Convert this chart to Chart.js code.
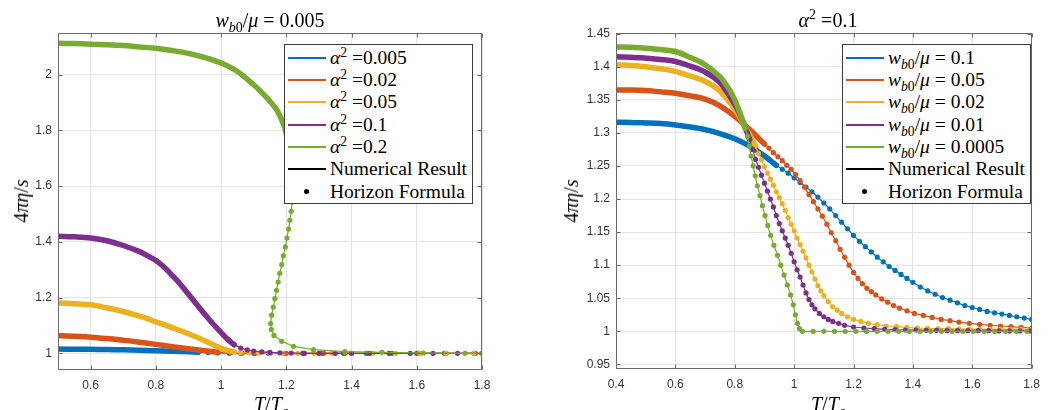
<!DOCTYPE html>
<html>
<head>
<meta charset="utf-8">
<script src="https://cdn.jsdelivr.net/npm/chart.js@4.4.1/dist/chart.umd.min.js"></script>
<style>
  body { margin: 0; background: #fff; }
  #wrap { position: relative; width: 1048px; height: 410px; overflow: hidden;
          font-family: "Liberation Serif", "DejaVu Serif", serif; color: #000; }
  .panel { position: absolute; top: 0; width: 524px; height: 410px; }
  .lbl { position: absolute; white-space: nowrap; font-size: 20px; line-height: 1;
         transform: translate(-50%, -50%); }
  .ylab { transform: translate(-50%, -50%) rotate(-90deg); }
  .legend { position: absolute; top: 44px; width: 189px; height: 160px; background: #fff;
            border: 1px solid #3a3a3a; box-sizing: border-box; }
  .row { position: absolute; left: 0; height: 22px; line-height: 22px; font-size: 19.5px; white-space: nowrap; }
  .sample { position: absolute; left: 3px; top: 10px; width: 38px; height: 2px; }
  .dot { position: absolute; left: 19px; top: 8.5px; width: 5px; height: 5px; border-radius: 50%; background: #000; }
  .txt { position: absolute; left: 45px; top: 0; }
  sup, sub { font-size: 70%; line-height: 0; }
</style>
</head>
<body>
<div id="wrap">
  <div class="panel" style="left:0"><canvas id="left"></canvas></div>
  <div class="panel" style="left:524px"><canvas id="right"></canvas></div>

  <div class="lbl" style="left:270px;top:20px"><i>w</i><sub><i>b</i>0</sub>/<i>μ</i> = 0.005</div>
  <div class="lbl" style="left:828px;top:20px"><i>α</i><sup>2</sup> =0.1</div>
  <div class="lbl ylab" style="left:21px;top:201px">4<i>πη</i>/<i>s</i></div>
  <div class="lbl ylab" style="left:571px;top:201px">4<i>πη</i>/<i>s</i></div>
  <div class="lbl" style="left:271px;top:404px"><i>T</i>/<i>T</i><sub><i>c</i></sub></div>
  <div class="lbl" style="left:828px;top:404px"><i>T</i>/<i>T</i><sub><i>c</i></sub></div>

  <div class="legend" id="legLeft" style="left:284px"></div>
  <div class="legend" id="legRight" style="left:842px"></div>
</div>

<script>
// MATLAB default colour order
const colors = ['#0072BD', '#D95319', '#EDB120', '#7E2F8E', '#77AC30'];

// ---- left panel: w_b0/mu = 0.005, series by alpha^2 ----
const leftAlpha = [0.005, 0.02, 0.05, 0.1, 0.2];
const leftXTicks = [0.6, 0.8, 1, 1.2, 1.4, 1.6, 1.8];
const leftYTicks = [1, 1.2, 1.4, 1.6, 1.8, 2];

// dense part of each curve (markers overlap into a solid band)
const leftBand = [
  [[0.5,1.015],[0.55,1.0148],[0.6,1.0143],[0.65,1.0135],[0.7,1.0125],[0.75,1.011],[0.8,1.0095],[0.85,1.0075],[0.9,1.0055],[0.93,1.004]],
  [[0.5,1.064],[0.55,1.061],[0.6,1.058],[0.65,1.053],[0.7,1.047],[0.75,1.04],[0.8,1.032],[0.85,1.024],[0.9,1.016],[0.95,1.009],[0.99,1.004]],
  [[0.5,1.181],[0.55,1.178],[0.6,1.174],[0.65,1.163],[0.7,1.15],[0.75,1.133],[0.8,1.113],[0.85,1.092],[0.9,1.07],[0.95,1.045],[1.0,1.018],[1.02,1.01],[1.04,1.005]],
  [[0.5,1.42],[0.55,1.418],[0.6,1.414],[0.65,1.404],[0.7,1.387],[0.75,1.365],[0.775,1.35],[0.8,1.333],[0.825,1.31],[0.85,1.28],[0.875,1.248],[0.9,1.212],[0.925,1.176],[0.95,1.14],[0.975,1.106],[1.0,1.074],[1.02,1.05],[1.04,1.031]],
  [[0.5,2.113],[0.55,2.112],[0.6,2.11],[0.65,2.108],[0.7,2.105],[0.75,2.1],[0.8,2.095],[0.85,2.087],[0.9,2.077],[0.95,2.062],[1.0,2.042],[1.05,2.012],[1.1,1.964],[1.13,1.93],[1.15,1.905],[1.17,1.875],[1.185,1.84],[1.195,1.81],[1.205,1.76],[1.212,1.71],[1.217,1.66],[1.22,1.61],[1.22,1.575]]
];
// sparse markers after the band
const leftDots = [
  [[0.96,1.0025],[0.99,1.0012],[1.025,1.0005],[1.06,1.0002],[1.1,1.0],[1.145,1.0],[1.195,1.0],[1.25,1.0],[1.31,1.0],[1.375,1.0],[1.445,1.0],[1.52,1.0],[1.6,1.0],[1.685,1.0],[1.775,1.0]],
  [[1.03,1.002],[1.065,1.001],[1.105,1.0],[1.15,1.0],[1.2,1.0],[1.255,1.0],[1.315,1.0],[1.38,1.0],[1.45,1.0],[1.525,1.0],[1.605,1.0],[1.69,1.0],[1.78,1.0]],
  [[1.06,1.003],[1.085,1.0015],[1.115,1.0008],[1.15,1.0003],[1.19,1.0],[1.235,1.0],[1.285,1.0],[1.34,1.0],[1.4,1.0],[1.465,1.0],[1.535,1.0],[1.61,1.0],[1.69,1.0],[1.775,1.0]],
  [[1.06,1.019],[1.08,1.012],[1.1,1.008],[1.125,1.005],[1.15,1.003],[1.18,1.0015],[1.215,1.001],[1.255,1.0],[1.3,1.0],[1.35,1.0],[1.4,1.0],[1.455,1.0],[1.515,1.0],[1.58,1.0],[1.65,1.0],[1.725,1.0],[1.8,1.0]],
  [[1.218,1.543],[1.215,1.51],[1.211,1.478],[1.207,1.446],[1.202,1.414],[1.197,1.382],[1.191,1.35],[1.186,1.318],[1.18,1.287],[1.175,1.256],[1.17,1.226],[1.165,1.196],[1.16,1.166],[1.155,1.137],[1.152,1.107],[1.154,1.085],[1.162,1.064],[1.186,1.043],[1.222,1.025],[1.283,1.013],[1.38,1.006],[1.493,1.0035],[1.62,1.001],[1.748,1.0],[1.8,1.0]]
];

// ---- right panel: alpha^2 = 0.1, series by w_b0/mu ----
const rightW = [0.1, 0.05, 0.02, 0.01, 0.0005];
const rightXTicks = [0.4, 0.6, 0.8, 1, 1.2, 1.4, 1.6, 1.8];
const rightYTicks = [0.95, 1, 1.05, 1.1, 1.15, 1.2, 1.25, 1.3, 1.35, 1.4, 1.45];

const rightBand = [
  [[0.4,1.316],[0.45,1.3158],[0.5,1.315],[0.55,1.314],[0.6,1.312],[0.65,1.309],[0.7,1.305],[0.75,1.299],[0.8,1.291],[0.85,1.28],[0.9,1.265],[0.94,1.251]],
  [[0.4,1.365],[0.45,1.3648],[0.5,1.364],[0.55,1.362],[0.6,1.36],[0.65,1.356],[0.7,1.351],[0.75,1.341],[0.8,1.325],[0.85,1.305],[0.9,1.283]],
  [[0.4,1.403],[0.45,1.402],[0.5,1.4],[0.55,1.397],[0.6,1.393],[0.65,1.386],[0.7,1.378],[0.75,1.363],[0.8,1.336],[0.83,1.313],[0.855,1.293],[0.87,1.28]],
  [[0.4,1.415],[0.45,1.4145],[0.5,1.413],[0.55,1.411],[0.6,1.408],[0.65,1.401],[0.7,1.392],[0.75,1.376],[0.8,1.343],[0.825,1.32],[0.85,1.29]],
  [[0.4,1.43],[0.45,1.4295],[0.5,1.428],[0.55,1.426],[0.6,1.423],[0.65,1.414],[0.7,1.403],[0.75,1.385],[0.775,1.37],[0.8,1.35],[0.82,1.327],[0.835,1.307]]
];
const rightDots = [
  [[0.96,1.245],[0.98,1.239],[1.0,1.232],[1.02,1.225],[1.04,1.218],[1.06,1.211],[1.08,1.203],[1.1,1.194],[1.12,1.185],[1.14,1.175],[1.16,1.165],[1.18,1.155],[1.2,1.145],[1.22,1.136],[1.24,1.128],[1.26,1.12],[1.28,1.112],[1.3,1.105],[1.32,1.098],[1.34,1.092],[1.36,1.086],[1.38,1.08],[1.4,1.074],[1.425,1.067],[1.45,1.061],[1.475,1.056],[1.5,1.051],[1.525,1.047],[1.55,1.043],[1.575,1.039],[1.6,1.036],[1.625,1.033],[1.65,1.03],[1.675,1.028],[1.7,1.026],[1.725,1.024],[1.75,1.022],[1.775,1.02],[1.8,1.018]],
  [[0.915,1.277],[0.93,1.27],[0.945,1.264],[0.96,1.258],[0.975,1.251],[0.99,1.245],[1.005,1.237],[1.02,1.228],[1.035,1.218],[1.05,1.207],[1.065,1.196],[1.08,1.185],[1.095,1.174],[1.11,1.162],[1.125,1.149],[1.14,1.137],[1.155,1.124],[1.17,1.112],[1.185,1.1],[1.2,1.089],[1.215,1.08],[1.23,1.072],[1.245,1.065],[1.26,1.06],[1.275,1.055],[1.295,1.049],[1.315,1.044],[1.335,1.039],[1.355,1.035],[1.38,1.031],[1.405,1.027],[1.435,1.024],[1.465,1.021],[1.495,1.018],[1.525,1.016],[1.555,1.014],[1.59,1.012],[1.625,1.0105],[1.66,1.009],[1.695,1.008],[1.73,1.007],[1.765,1.006],[1.8,1.005]],
  [[0.88,1.269],[0.89,1.259],[0.9,1.249],[0.91,1.239],[0.92,1.23],[0.93,1.221],[0.94,1.211],[0.95,1.202],[0.96,1.193],[0.97,1.183],[0.98,1.172],[0.99,1.162],[1.0,1.152],[1.01,1.141],[1.02,1.131],[1.03,1.121],[1.04,1.111],[1.05,1.1],[1.06,1.09],[1.07,1.079],[1.08,1.069],[1.09,1.061],[1.1,1.054],[1.115,1.045],[1.13,1.037],[1.145,1.032],[1.16,1.027],[1.18,1.022],[1.2,1.018],[1.225,1.015],[1.25,1.012],[1.28,1.01],[1.31,1.008],[1.345,1.007],[1.38,1.006],[1.415,1.005],[1.45,1.0045],[1.485,1.004],[1.52,1.004],[1.555,1.0035],[1.59,1.0035],[1.625,1.003],[1.66,1.003],[1.695,1.003],[1.73,1.003],[1.765,1.003],[1.8,1.003]],
  [[0.86,1.275],[0.87,1.26],[0.88,1.248],[0.89,1.236],[0.9,1.224],[0.91,1.212],[0.92,1.2],[0.93,1.188],[0.94,1.175],[0.95,1.163],[0.96,1.152],[0.97,1.141],[0.98,1.13],[0.99,1.118],[1.0,1.105],[1.01,1.093],[1.02,1.082],[1.03,1.07],[1.04,1.058],[1.05,1.048],[1.06,1.04],[1.07,1.034],[1.085,1.027],[1.1,1.022],[1.115,1.018],[1.13,1.015],[1.15,1.012],[1.17,1.009],[1.2,1.0065],[1.235,1.005],[1.27,1.004],[1.305,1.003],[1.34,1.0025],[1.375,1.002],[1.41,1.002],[1.445,1.0015],[1.48,1.0015],[1.515,1.001],[1.55,1.001],[1.585,1.001],[1.62,1.001],[1.655,1.001],[1.69,1.0005],[1.725,1.0005],[1.76,1.0005],[1.795,1.0005]],
  [[0.843,1.295],[0.849,1.28],[0.855,1.265],[0.862,1.25],[0.869,1.235],[0.876,1.22],[0.885,1.205],[0.893,1.19],[0.902,1.175],[0.911,1.16],[0.921,1.145],[0.932,1.13],[0.944,1.115],[0.955,1.1],[0.966,1.085],[0.977,1.07],[0.988,1.055],[0.997,1.04],[1.004,1.025],[1.011,1.012],[1.018,1.004],[1.028,1.0],[1.064,1.0],[1.1,1.0],[1.136,1.0],[1.172,1.0],[1.208,1.0],[1.244,1.0],[1.28,1.0],[1.316,1.0],[1.352,1.0],[1.388,1.0],[1.424,1.0],[1.46,1.0],[1.496,1.0],[1.532,1.0],[1.568,1.0],[1.604,1.0],[1.64,1.0],[1.676,1.0],[1.712,1.0],[1.748,1.0],[1.784,1.0]]
];

const pts = arr => arr.map(([x, y]) => ({ x, y }));

function buildDatasets(bands, dots) {
  const sets = [];
  bands.forEach((band, i) => {
    const order = bands.length - i; // last series on top
    sets.push({
      data: pts(band), showLine: true, borderColor: colors[i], borderWidth: 5.5, tension: 0.35,
      borderCapStyle: 'round', borderJoinStyle: 'round', pointRadius: 0, order
    });
    sets.push({
      data: pts([band[band.length - 1], ...dots[i]]), showLine: true, borderColor: colors[i],
      borderWidth: 1.2, pointRadius: 2.6, pointBackgroundColor: colors[i], pointBorderWidth: 0, order
    });
  });
  return sets;
}

// axes box with inward ticks on all four sides
const boxPlugin = {
  id: 'box',
  afterDatasetsDraw(chart) {
    const { ctx, chartArea: a, scales: { x, y } } = chart;
    const L = Math.round(a.left) + 0.5, R = Math.round(a.right) - 0.5;
    const T = Math.round(a.top) + 0.5, B = Math.round(a.bottom) - 0.5;
    ctx.save();
    ctx.strokeStyle = '#6a6a6a';
    ctx.lineWidth = 1;
    ctx.beginPath();
    ctx.rect(L, T, R - L, B - T);
    x.ticks.forEach(t => {
      const px = Math.round(x.getPixelForValue(t.value)) + 0.5;
      ctx.moveTo(px, B); ctx.lineTo(px, B - 4);
      ctx.moveTo(px, T); ctx.lineTo(px, T + 4);
    });
    y.ticks.forEach(t => {
      const py = Math.round(y.getPixelForValue(t.value)) + 0.5;
      ctx.moveTo(L, py); ctx.lineTo(L + 4, py);
      ctx.moveTo(R, py); ctx.lineTo(R - 4, py);
    });
    ctx.stroke();
    ctx.restore();
  }
};

function axis(min, max, ticks, fit) {
  return {
    type: 'linear', min, max,
    afterBuildTicks: s => { s.ticks = ticks.map(v => ({ value: v })); },
    afterFit: fit,
    grid: { color: '#e4e4e4', drawTicks: false },
    border: { display: false },
    ticks: {
      padding: 6, color: '#333', autoSkip: false, maxRotation: 0,
      font: { family: 'Liberation Sans', size: 12 },
      callback: v => String(v)
    }
  };
}

function makeChart(id, bands, dots, xr, yr, xt, yt, yWidth, xHeight, padRight) {
  const xs = axis(xr[0], xr[1], xt, s => { s.height = xHeight; });
  xs.ticks.padding = 8;
  return new Chart(document.getElementById(id), {
    type: 'scatter',
    data: { datasets: buildDatasets(bands, dots) },
    options: {
      responsive: true, maintainAspectRatio: false, animation: false, events: [],
      layout: { autoPadding: false, padding: { top: 33, right: padRight, bottom: 0, left: 0 } },
      plugins: { legend: { display: false }, tooltip: { enabled: false } },
      scales: {
        x: xs,
        y: axis(yr[0], yr[1], yt, s => { s.width = yWidth; })
      }
    },
    plugins: [boxPlugin]
  });
}

makeChart('left', leftBand, leftDots, [0.5, 1.8], [0.94, 2.15], leftXTicks, leftYTicks, 58, 40, 42);
makeChart('right', rightBand, rightDots, [0.4, 1.8], [0.943, 1.451], rightXTicks, rightYTicks, 92, 41, 8);

// legends
function legend(el, labels) {
  const rows = labels.map((html, i) => ({ html, color: colors[i], kind: 'line' }));
  rows.push({ html: 'Numerical Result', color: '#000', kind: 'line' });
  rows.push({ html: 'Horizon Formula', color: '#000', kind: 'dot' });
  el.innerHTML = rows.map((r, i) => {
    const mark = r.kind === 'line'
      ? `<span class="sample" style="background:${r.color}"></span>`
      : `<span class="dot"></span>`;
    return `<div class="row" style="top:${(1.7 + 22.33 * i).toFixed(1)}px;width:100%">${mark}<span class="txt">${r.html}</span></div>`;
  }).join('');
}
legend(document.getElementById('legLeft'), leftAlpha.map(a => `<i>α</i><sup>2</sup> =${a}`));
legend(document.getElementById('legRight'), rightW.map(w => `<i>w</i><sub><i>b</i>0</sub>/<i>μ</i> = ${w}`));
</script>
</body>
</html>
